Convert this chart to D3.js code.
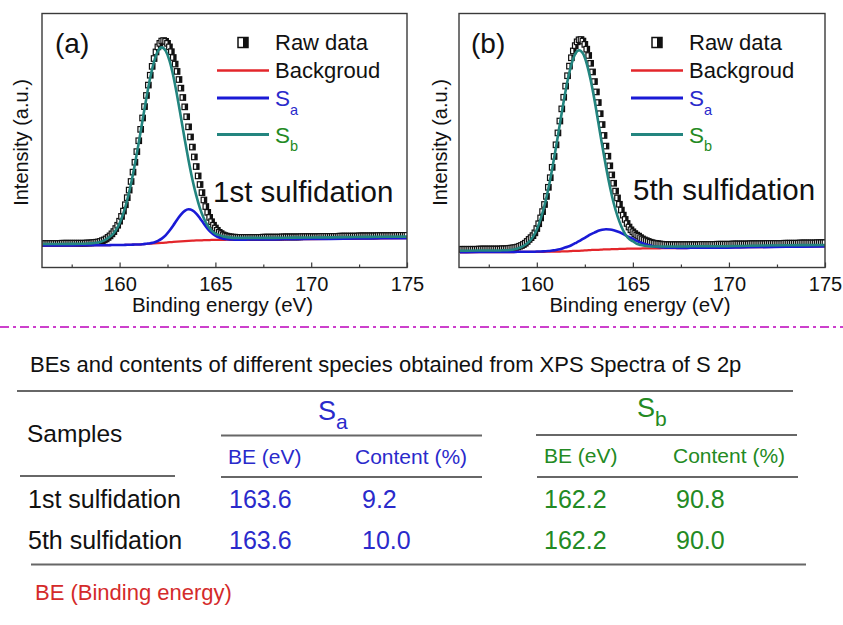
<!DOCTYPE html>
<html>
<head>
<meta charset="utf-8">
<script src="https://cdn.jsdelivr.net/npm/d3@7"></script>
<style>
  body { margin: 0; background: #fff; }
  svg { display: block; font-family: "Liberation Sans", Arial, Helvetica, sans-serif; }
</style>
</head>
<body>
<svg id="chart" width="843" height="625"></svg>
<script>
// ---- raw XPS scans (S 2p), 0.1 eV step from 156.0 eV ----
const rawStart = 156.0;
const rawStep = 0.1;

const rawA = [
  9.3, 9.3, 9.3, 9.3, 9.3, 9.3, 9.3, 9.3, 9.3, 9.3,
  9.4, 9.4, 9.4, 9.4, 9.4, 9.4, 9.4, 9.4, 9.4, 9.4,
  9.4, 9.4, 9.4, 9.5, 9.5, 9.5, 9.6, 9.7, 9.8, 9.9,
  10.1, 10.4, 10.7, 11.1, 11.7, 12.3, 13.1, 14.0, 15.2, 16.5,
  18.1, 20.0, 22.1, 24.6, 27.4, 30.4, 33.8, 37.5, 41.4, 45.6,
  49.9, 54.4, 58.9, 63.4, 67.8, 71.9, 75.8, 79.3, 82.4, 85.0,
  87.0, 88.4, 89.3, 89.5, 89.2, 88.4, 87.0, 85.1, 82.8, 80.2,
  77.3, 74.1, 70.7, 67.0, 63.3, 59.4, 55.4, 51.4, 47.4, 43.5,
  39.7, 36.0, 32.6, 29.4, 26.5, 23.9, 21.6, 19.6, 17.9, 16.5,
  15.4, 14.5, 13.7, 13.2, 12.7, 12.4, 12.2, 12.0, 11.9, 11.8,
  11.8, 11.7, 11.7, 11.7, 11.7,
  11.7, 11.7, 11.7, 11.7, 11.7, 11.7, 11.7, 11.7, 11.7, 11.7,
  11.8, 11.8, 11.8, 11.8, 11.8, 11.8, 11.8, 11.8, 11.8, 11.8,
  11.9, 11.9, 11.9, 11.9, 11.9, 11.9, 11.9, 11.9, 11.9, 11.9,
  12.0, 12.0, 12.0, 12.0, 12.0, 12.0, 12.0, 12.0, 12.0, 12.0,
  12.1, 12.1, 12.1, 12.1, 12.1, 12.1, 12.1, 12.1, 12.1, 12.1,
  12.2, 12.2, 12.2, 12.2, 12.2, 12.2, 12.2, 12.2, 12.2, 12.2,
  12.3, 12.3, 12.3, 12.3, 12.3, 12.3, 12.3, 12.3, 12.3, 12.3,
  12.4, 12.4, 12.4, 12.4, 12.4, 12.4, 12.4, 12.4, 12.4, 12.4,
  12.5, 12.5, 12.5, 12.5, 12.5, 12.5
];

const rawB = [
  7.0, 7.0, 7.0, 7.0, 7.0, 7.0, 7.0, 7.0, 7.0, 7.0,
  7.1, 7.1, 7.1, 7.1, 7.1, 7.1, 7.1, 7.1, 7.1, 7.1,
  7.1, 7.1, 7.2, 7.2, 7.2, 7.3, 7.4, 7.5, 7.6, 7.7,
  7.9, 8.2, 8.5, 8.9, 9.4, 10.1, 10.9, 11.6, 12.4, 13.5,
  15.2, 17.1, 19.4, 21.9, 24.7, 27.9, 31.5, 35.3, 39.4, 43.7,
  48.3, 53.0, 57.7, 62.5, 67.1, 71.5, 75.6, 79.4, 82.7, 85.4,
  87.5, 89.0, 89.8, 89.9, 89.3, 88.0, 86.1, 83.6, 80.5, 77.1,
  73.3, 69.2, 65.0, 60.6, 56.3, 52.0, 47.8, 43.8, 40.0, 36.4,
  33.1, 30.0, 27.3, 24.8, 22.5, 20.5, 18.8, 17.2, 15.8, 14.7,
  13.9, 13.2, 12.6, 12.2, 11.6, 11.1, 10.7, 10.4, 10.1, 9.8,
  9.6, 9.4, 9.3, 9.2, 9.1, 9.0, 8.9, 8.9, 8.8, 8.8,
  8.8, 8.8, 8.8, 8.8, 8.8, 8.8, 8.8, 8.8, 8.8, 8.8,
  8.8, 8.8, 8.8, 8.8, 8.8,
  8.9, 8.9, 8.9, 8.9, 8.9, 8.9, 8.9, 8.9, 8.9,
  9.0, 9.0, 9.0, 9.0, 9.0, 9.0, 9.0, 9.0,
  9.1, 9.1, 9.1, 9.1, 9.1, 9.1, 9.1, 9.1, 9.1,
  9.2, 9.2, 9.2, 9.2, 9.2, 9.2, 9.2, 9.2, 9.2,
  9.3, 9.3, 9.3, 9.3, 9.3, 9.3, 9.3, 9.3, 9.3,
  9.4, 9.4, 9.4, 9.4, 9.4, 9.4, 9.4, 9.4,
  9.5, 9.5, 9.5, 9.5, 9.5, 9.5, 9.5, 9.5, 9.5,
  9.6, 9.6, 9.6, 9.6, 9.6
];

// ---- fitted curves (background, Sa, Sb) ----
const fitEnergy = [
  156, 157, 158, 158.2, 158.4, 158.6, 158.8, 159, 159.2, 159.4, 159.6, 159.8,
  160, 160.2, 160.4, 160.6, 160.8, 161, 161.2, 161.4, 161.6, 161.8,
  162, 162.2, 162.4, 162.6, 162.8, 163, 163.2, 163.4, 163.6, 163.8,
  164, 164.2, 164.4, 164.6, 164.8, 165, 165.2, 165.4, 165.6, 165.8,
  166, 166.2, 166.4, 166.6, 166.8, 167, 167.2, 167.4, 167.6, 167.8,
  168, 169, 171, 173, 175
];

const bgA = [
  8.5, 8.5, 8.6, 8.6, 8.6, 8.6, 8.6, 8.6, 8.6, 8.6, 8.7, 8.7,
  8.7, 8.7, 8.8, 8.8, 8.9, 8.9, 9.0, 9.1, 9.2, 9.3,
  9.4, 9.5, 9.6, 9.8, 9.9, 10.0, 10.1, 10.2, 10.3, 10.4,
  10.5, 10.5, 10.6, 10.6, 10.7, 10.7, 10.7, 10.7, 10.8, 10.8,
  10.8, 10.8, 10.8, 10.8, 10.9, 10.9, 10.9, 10.9, 10.9, 10.9,
  10.9, 11.0, 11.1, 11.3, 11.4
];
const saA = [
  8.5, 8.5, 8.6, 8.6, 8.6, 8.6, 8.6, 8.6, 8.6, 8.6, 8.7, 8.7,
  8.7, 8.7, 8.8, 8.8, 8.9, 8.9, 9.0, 9.2, 9.4, 9.7,
  10.3, 11.2, 12.5, 14.3, 16.4, 18.7, 20.7, 22.2, 22.8, 22.4,
  21.1, 19.2, 17.1, 15.1, 13.5, 12.4, 11.6, 11.2, 11.0, 10.9,
  10.8, 10.8, 10.8, 10.8, 10.9, 10.9, 10.9, 10.9, 10.9, 10.9,
  10.9, 11.0, 11.1, 11.3, 11.4
];
const sbA = [
  9.1, 9.1, 9.2, 9.2, 9.3, 9.4, 9.6, 9.9, 10.5, 11.5, 12.6, 14.5,
  17.3, 21.3, 26.6, 33.0, 40.7, 49.1, 58.1, 66.9, 74.9, 81.2,
  85.3, 86.8, 85.5, 81.7, 75.6, 67.8, 59.2, 50.4, 42.1, 34.6,
  28.3, 23.1, 19.2, 16.3, 14.4, 13.2, 12.6, 12.1, 11.8, 11.6,
  11.5, 11.5, 11.5, 11.5, 11.5, 11.5, 11.5, 11.5, 11.5, 11.5,
  11.5, 11.6, 11.7, 11.9, 12.0
];

const bgB = [
  5.8, 5.9, 5.9, 5.9, 5.9, 5.9, 5.9, 6.0, 6.0, 6.0, 6.0, 6.0,
  6.0, 6.0, 6.0, 6.1, 6.1, 6.1, 6.1, 6.2, 6.2, 6.3,
  6.4, 6.4, 6.5, 6.6, 6.7, 6.8, 6.8, 6.9, 7.0, 7.0,
  7.1, 7.1, 7.2, 7.2, 7.3, 7.3, 7.3, 7.3, 7.4, 7.4,
  7.4, 7.4, 7.4, 7.5, 7.5, 7.5, 7.5, 7.5, 7.5, 7.5,
  7.6, 7.6, 7.8, 8.0, 8.1
];
const saB = [
  5.8, 5.9, 5.9, 5.9, 5.9, 5.9, 5.9, 6.0, 6.0, 6.0, 6.0, 6.0,
  6.1, 6.1, 6.2, 6.3, 6.5, 6.7, 7.0, 7.5, 8.0, 8.6,
  9.4, 10.2, 11.1, 12.0, 12.9, 13.6, 14.3, 14.7, 14.9, 14.8,
  14.5, 14.0, 13.4, 12.6, 11.8, 11.1, 10.3, 9.7, 9.1, 8.7,
  8.3, 8.0, 7.8, 7.7, 7.6, 7.6, 7.6, 7.5, 7.5, 7.5,
  7.6, 7.6, 7.8, 8.0, 8.1
];
const sbB = [
  6.4, 6.5, 6.5, 6.6, 6.6, 6.7, 6.9, 7.3, 7.9, 8.8, 10.0, 11.9,
  14.8, 19.0, 24.3, 30.9, 38.7, 47.4, 56.5, 65.5, 73.6, 80.0,
  84.2, 85.7, 84.4, 80.3, 74.0, 66.1, 57.2, 48.2, 39.6, 31.9,
  25.3, 20.1, 16.0, 13.0, 11.1, 10.2, 9.2, 8.7, 8.4, 8.2,
  8.1, 8.1, 8.1, 8.1, 8.1, 8.1, 8.1, 8.1, 8.1, 8.1,
  8.2, 8.2, 8.4, 8.6, 8.7
];

const xTicks = [160, 165, 170, 175];
const xMinorTicks = [157.5, 162.5, 167.5, 172.5];

// ---- table ----
const tableTitle = "BEs and contents of different species obtained from XPS Spectra of S 2p";
const sampleNames = ["1st sulfidation", "5th sulfidation"];
const saBE = [163.6, 163.6];
const saContent = [9.2, 10.0];
const sbBE = [162.2, 162.2];
const sbContent = [90.8, 90.0];
const columnNames = ["BE (eV)", "Content (%)"];

const colRed = "#e3262b";
const colBlue = "#1a1ad6";
const colTeal = "#23857f";
const txtBlue = "#2a2acb";
const txtGreen = "#238a23";
const ink = "#111";

const svg = d3.select("#chart");

const panels = [
  { left: 42, right: 407, raw: rawA, bg: bgA, sa: saA, sb: sbA,
    tag: "(a)", tagX: 55, title: "1st sulfidation", titleX: 213, titleY: 202, legX: 275, yLabX: 28 },
  { left: 459, right: 825, raw: rawB, bg: bgB, sa: saB, sb: sbB,
    tag: "(b)", tagX: 471, title: "5th sulfidation", titleX: 633, titleY: 200, legX: 689, yLabX: 447 }
];
const frameTop = 13.5, frameBottom = 267.5;

panels.forEach((p, i) => {
  const x = d3.scaleLinear().domain([155.95, 175]).range([p.left, p.right]);
  const y = d3.scaleLinear().domain([0, 100]).range([267, 14]);
  const g = svg.append("g");

  svg.append("clipPath").attr("id", "clip" + i)
    .append("rect")
    .attr("x", p.left).attr("y", frameTop)
    .attr("width", p.right - p.left).attr("height", frameBottom - frameTop);

  const plot = g.append("g").attr("clip-path", `url(#clip${i})`);

  // raw data: half-filled squares
  const rawPts = p.raw.map((v, k) => [rawStart + k * rawStep, v]);
  const sq = plot.append("g").selectAll("g")
    .data(rawPts)
    .join("g")
    .attr("transform", d => `translate(${x(d[0])},${y(d[1])})`);
  sq.append("rect")
    .attr("x", -2.75).attr("y", -2.75).attr("width", 5.5).attr("height", 5.5)
    .attr("fill", "#fff").attr("stroke", ink).attr("stroke-width", 1.2);
  sq.append("rect")
    .attr("x", 0).attr("y", -2.75).attr("width", 2.75).attr("height", 5.5)
    .attr("fill", ink);

  const line = d3.line()
    .x((d, k) => x(fitEnergy[k]))
    .y(d => y(d))
    .curve(d3.curveMonotoneX);

  [[p.bg, colRed, 2.2], [p.sa, colBlue, 2.6], [p.sb, colTeal, 2.6]].forEach(([vals, c, w]) => {
    plot.append("path")
      .attr("d", line(vals))
      .attr("fill", "none")
      .attr("stroke", c)
      .attr("stroke-width", w)
      .attr("stroke-linejoin", "round");
  });

  // frame
  g.append("rect")
    .attr("x", p.left).attr("y", frameTop)
    .attr("width", p.right - p.left).attr("height", frameBottom - frameTop)
    .attr("fill", "none").attr("stroke", "#3a3a3a").attr("stroke-width", 1.4);

  // bottom axis, ticks pointing inward
  const ax = g.append("g")
    .attr("transform", `translate(0,${frameBottom})`)
    .call(d3.axisBottom(x).tickValues(xTicks).tickSize(-5).tickPadding(9).tickFormat(d3.format("d")));
  ax.select(".domain").remove();
  ax.selectAll("line").attr("stroke", "#3a3a3a").attr("stroke-width", 1.2);
  ax.selectAll("text").attr("font-size", 20).attr("fill", ink)
    .style("font-family", "Liberation Sans, Arial, sans-serif");

  const axm = g.append("g")
    .attr("transform", `translate(0,${frameBottom})`)
    .call(d3.axisBottom(x).tickValues(xMinorTicks).tickSize(-3).tickFormat(""));
  axm.select(".domain").remove();
  axm.selectAll("line").attr("stroke", "#3a3a3a").attr("stroke-width", 1.2);

  // axis titles
  g.append("text")
    .attr("x", (p.left + p.right) / 2 - 2).attr("y", 312)
    .attr("text-anchor", "middle").attr("font-size", 20.5).attr("fill", ink)
    .text("Binding energy (eV)");

  g.append("text")
    .attr("transform", `translate(${p.yLabX},${(frameTop + frameBottom) / 2 + 2}) rotate(-90)`)
    .attr("text-anchor", "middle").attr("font-size", 20).attr("fill", ink)
    .text("Intensity (a.u.)");

  // panel tag and sample name
  g.append("text")
    .attr("x", p.tagX).attr("y", 53)
    .attr("font-size", 28).attr("fill", ink)
    .text(p.tag);

  g.append("text")
    .attr("x", p.titleX).attr("y", p.titleY)
    .attr("font-size", 29.5).attr("fill", ink)
    .text(p.title);

  // legend
  const lx = p.legX;
  const leg = g.append("g");
  leg.append("rect")
    .attr("x", lx - 37).attr("y", 37.5).attr("width", 10).attr("height", 10)
    .attr("fill", "#fff").attr("stroke", ink).attr("stroke-width", 1.5);
  leg.append("rect")
    .attr("x", lx - 32).attr("y", 37.5).attr("width", 5).attr("height", 10)
    .attr("fill", ink);
  leg.append("text").attr("x", lx).attr("y", 49.5)
    .attr("font-size", 22).attr("fill", ink).text("Raw data");

  const legLines = [
    { y: 70.5, c: colRed, w: 2.6 },
    { y: 98, c: colBlue, w: 2.8 },
    { y: 134.5, c: colTeal, w: 2.8 }
  ];
  legLines.forEach(l => {
    leg.append("line")
      .attr("x1", lx - 58).attr("x2", lx - 6)
      .attr("y1", l.y).attr("y2", l.y)
      .attr("stroke", l.c).attr("stroke-width", l.w);
  });
  leg.append("text").attr("x", lx).attr("y", 78)
    .attr("font-size", 22).attr("fill", ink).text("Backgroud");

  const subLabel = (yy, sub, c) => {
    const t = leg.append("text").attr("x", lx).attr("y", yy)
      .attr("font-size", 22.5).attr("fill", c);
    t.append("tspan").text("S");
    t.append("tspan").attr("font-size", 14.5).attr("dy", 8.5).text(sub);
  };
  subLabel(106, "a", txtBlue);
  subLabel(142.5, "b", txtGreen);
});

// dash-dot separator
svg.append("line")
  .attr("x1", 0).attr("x2", 843)
  .attr("y1", 327).attr("y2", 327)
  .attr("stroke", "#cc3fcc").attr("stroke-width", 2)
  .attr("stroke-dasharray", "9 4 3 4");

// ---- table ----
const tbl = svg.append("g").attr("fill", ink);

tbl.append("text").attr("x", 30).attr("y", 372)
  .attr("font-size", 22).text(tableTitle);

const rule = (x1, x2, yy) => tbl.append("line")
  .attr("x1", x1).attr("x2", x2).attr("y1", yy).attr("y2", yy)
  .attr("stroke", "#676767").attr("stroke-width", 2);

rule(17, 793, 391);
rule(20, 175, 476);
rule(221, 482, 435.5);
rule(221, 482, 477);
rule(536, 797, 435);
rule(537, 798, 477);
rule(31, 806, 564.5);

tbl.append("text").attr("x", 27).attr("y", 442)
  .attr("font-size", 24.5).text("Samples");

const groupHead = (xx, yy, sub, c) => {
  const t = tbl.append("text").attr("x", xx).attr("y", yy)
    .attr("font-size", 27).attr("fill", c);
  t.append("tspan").text("S");
  t.append("tspan").attr("font-size", 21).attr("dy", 9).text(sub);
};
groupHead(318, 420, "a", txtBlue);
groupHead(637, 417, "b", txtGreen);

const groups = [
  { c: txtBlue, cols: [228, 355], headY: 464, vals: [saBE, saContent], valX: [229, 362] },
  { c: txtGreen, cols: [544, 673], headY: 463, vals: [sbBE, sbContent], valX: [544, 676] }
];

const rowY = d3.scalePoint().domain(sampleNames).range([508, 549]);
const fmt = d3.format(".1f");

groups.forEach(gr => {
  columnNames.forEach((name, k) => {
    tbl.append("text").attr("x", gr.cols[k]).attr("y", gr.headY)
      .attr("font-size", 21).attr("fill", gr.c).text(name);
  });
  gr.vals.forEach((arr, k) => {
    tbl.selectAll(null)
      .data(arr.map((v, r) => ({ v, s: sampleNames[r] })))
      .join("text")
      .attr("x", gr.valX[k])
      .attr("y", d => rowY(d.s))
      .attr("font-size", 25)
      .attr("fill", gr.c)
      .text(d => fmt(d.v));
  });
});

tbl.selectAll(null)
  .data(sampleNames)
  .join("text")
  .attr("x", 28)
  .attr("y", d => rowY(d))
  .attr("font-size", 25)
  .text(d => d);

tbl.append("text").attr("x", 35).attr("y", 600)
  .attr("font-size", 22).attr("fill", "#d42a2a")
  .text("BE (Binding energy)");
</script>
</body>
</html>
